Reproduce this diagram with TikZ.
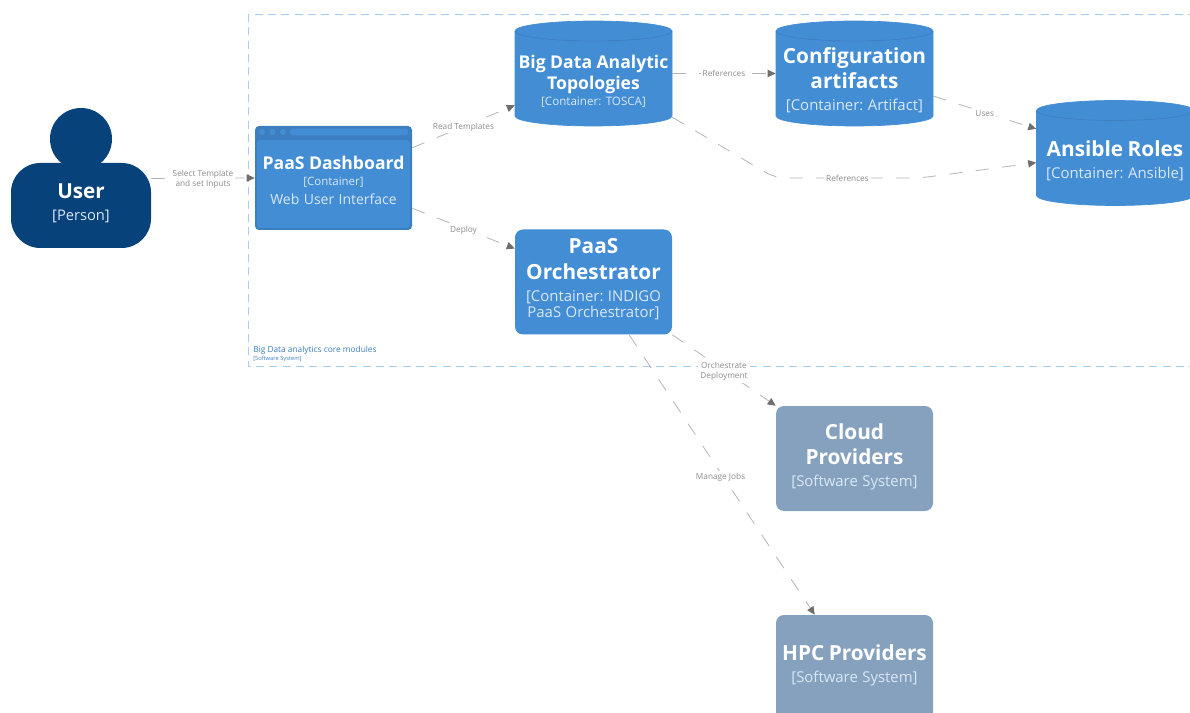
\documentclass[tikz,border=0pt]{standalone}
\usepackage{fontspec}
\setmainfont{Open Sans}
\usetikzlibrary{arrows.meta}
\definecolor{personblue}{HTML}{08427B}
\definecolor{containerblue}{HTML}{438DD5}
\definecolor{containeredge}{HTML}{3C7EC0}
\definecolor{systemblue}{HTML}{85A1BE}
\definecolor{boundaryblue}{HTML}{A9CDEF}
\definecolor{kindtext}{HTML}{D9E8F7}
\definecolor{flowline}{HTML}{B4B4B4}
\definecolor{flowtip}{HTML}{6E6E6E}
\definecolor{flowtext}{HTML}{8C8C8C}
\newcommand{\elemname}[2]{{\frenchspacing\fontsize{#1}{10}\selectfont\baselineskip=1.21em\bfseries\color{white} #2\par\vspace{0.25em}}}
\newcommand{\elemkind}[2]{{\frenchspacing\fontsize{#1}{10}\selectfont\baselineskip=1.12em\color{kindtext} #2\par}}
\tikzset{
  elembox/.style={rectangle,rounded corners=6pt,fill=#1,minimum width=117.75pt,minimum height=78.75pt,inner sep=0pt},
  dbanchor/.style={rectangle,minimum width=117.75pt,minimum height=78.75pt,inner sep=0pt},
  elemlabel/.style={inner sep=0pt,text width=117.75pt,align=center},
  flow/.style={draw=flowline,line width=0.6pt,dash pattern=on 10pt off 10pt,-{Triangle[length=6pt,width=5.5pt,color=flowtip]}},
  flowlabel/.style={fill=white,inner sep=1.5pt,align=center,text=flowtext,font=\fontsize{6.2}{7.6}\selectfont},
  dbcan/.pic={
    \filldraw[fill=containerblue,draw=containerblue,line width=0.5pt] (-78.5,-42.5) arc[start angle=180,end angle=0,x radius=58.875pt,y radius=7.5pt]
        -- (78.5,42.5) arc[start angle=0,end angle=-180,x radius=58.875pt,y radius=7.5pt] -- cycle;
    \draw[containeredge,line width=0.5pt] (-78.5,-42.5) arc[start angle=180,end angle=360,x radius=58.875pt,y radius=7.5pt];
  }
}
\begin{document}
\begin{tikzpicture}[x=0.75pt,y=-0.75pt]
    \clip (0,0) rectangle (1190,713);

    % Boundary of the core modules
    \draw[boundaryblue,line width=0.6pt,dash pattern=on 6pt off 4pt] (248,14) rectangle (1210,366);
    \node[anchor=west,inner sep=0pt,text=containeredge,font=\fontsize{6.25}{8}\selectfont] (corename) at (253,350.5) {Big Data analytics core modules};
    \node[anchor=west,inner sep=0pt,text=containeredge,font=\fontsize{4.3}{5}\selectfont] (corekind) at (253,359) {[Software System]};

    % Person
    \node[circle,fill=personblue,minimum size=46.5pt,inner sep=0pt] (head) at (81,139) {};
    \node[elembox=personblue,rounded corners=22pt,minimum width=105pt,minimum height=63.75pt] (user) at (81,205.5) {};
    \node[elemlabel] (usertext) at (81,203.5)
        {\elemname{15.5}{User}\elemkind{11}{[Person]}};

    % Web application
    \node[rectangle,rounded corners=3pt,fill=containeredge,minimum width=117.75pt,minimum height=78pt] (dash) at (333.5,178) {};
    \foreach \dotx/\dotname in {262/dotA,272.5/dotB,283/dotC}
        \node[circle,fill=containerblue,minimum size=4.5pt,inner sep=0pt] (\dotname) at (\dotx,132) {};
    \node[rectangle,rounded corners=2pt,fill=containerblue,minimum width=88.5pt,minimum height=5pt,inner sep=0pt] (dashbar) at (349,132) {};
    \node[elembox=containerblue,rounded corners=2.5pt,minimum width=115pt,minimum height=66pt] (dashinner) at (333.5,184) {};
    \node[elemlabel] (dashtext) at (333.5,180.5)
        {\elemname{13.2}{PaaS Dashboard}\vspace{-0.8pt}\elemkind{8.6}{[Container]}\vspace{2.6pt}\elemkind{10.5}{Web User Interface}};

    % Containers
    \node[elembox=containerblue] (orch) at (593.5,282) {};
    \node[elemlabel] (orchtext) at (593.5,279.5)
        {\elemname{15.6}{PaaS\\Orchestrator}\elemkind{11.2}{[Container: INDIGO\\PaaS Orchestrator]}};
    \pic at (593.5,73.5) {dbcan};
    \node[dbanchor] (topo) at (593.5,73.5) {};
    \node[elemlabel] (topotext) at (593.5,81)
        {\elemname{13.2}{Big Data Analytic\\Topologies}\vspace{-1.2pt}\elemkind{8.7}{[Container: TOSCA]}};
    \pic at (854.5,73.5) {dbcan};
    \node[dbanchor] (config) at (854.5,73.5) {};
    \node[elemlabel] (configtext) at (854.5,80.5)
        {\elemname{15.6}{Configuration\\artifacts}\elemkind{11.2}{[Container: Artifact]}};
    \pic at (1115,153) {dbcan};
    \node[dbanchor] (ansible) at (1115,153) {};
    \node[elemlabel] (ansibletext) at (1115,160.5)
        {\elemname{15.6}{Ansible Roles}\elemkind{11.2}{[Container: Ansible]}};

    % External systems
    \node[elembox=systemblue] (cloud) at (854.5,458.5) {};
    \node[elemlabel] (cloudtext) at (854.5,456.5)
        {\elemname{15.6}{Cloud\\Providers}\elemkind{11.2}{[Software System]}};
    \node[elembox=systemblue] (hpc) at (854.5,667.5) {};
    \node[elemlabel] (hpctext) at (854.5,665)
        {\elemname{15.6}{HPC Providers}\elemkind{11.2}{[Software System]}};

    % Relationships
    \coordinate (refbendA) at (775,178);
    \coordinate (refbendB) at (920,178);
    \draw[flow] (user.21.4) -- node[flowlabel,yshift=-0.6pt] {Select Template\\and set Inputs} (dash.west);
    \draw[flow] (dash.21) -- node[flowlabel,yshift=-0.6pt] {Read Templates} (topo.202);
    \draw[flow] (dash.-21) -- node[flowlabel,yshift=-1.5pt] {Deploy} (orch.157.8);
    \draw[flow] (topo.east) -- node[flowlabel] {References} (config.west);
    \draw[flow] (config.-16.5) -- node[flowlabel,yshift=-0.6pt] {Uses} (ansible.163);
    \draw[flow,rounded corners=8pt] (topo.-29.5) -- (refbendA) -- node[flowlabel] {References} (refbendB) -- (ansible.187);
    \draw[flow] (orch.south east) -- node[flowlabel,yshift=-1pt] {Orchestrate\\Deployment} (cloud.north west);
    \draw[flow] (orch.-56.4) -- node[flowlabel,xshift=-1pt,yshift=-2pt] {Manage Jobs} (hpc.127);
\end{tikzpicture}
\end{document}
